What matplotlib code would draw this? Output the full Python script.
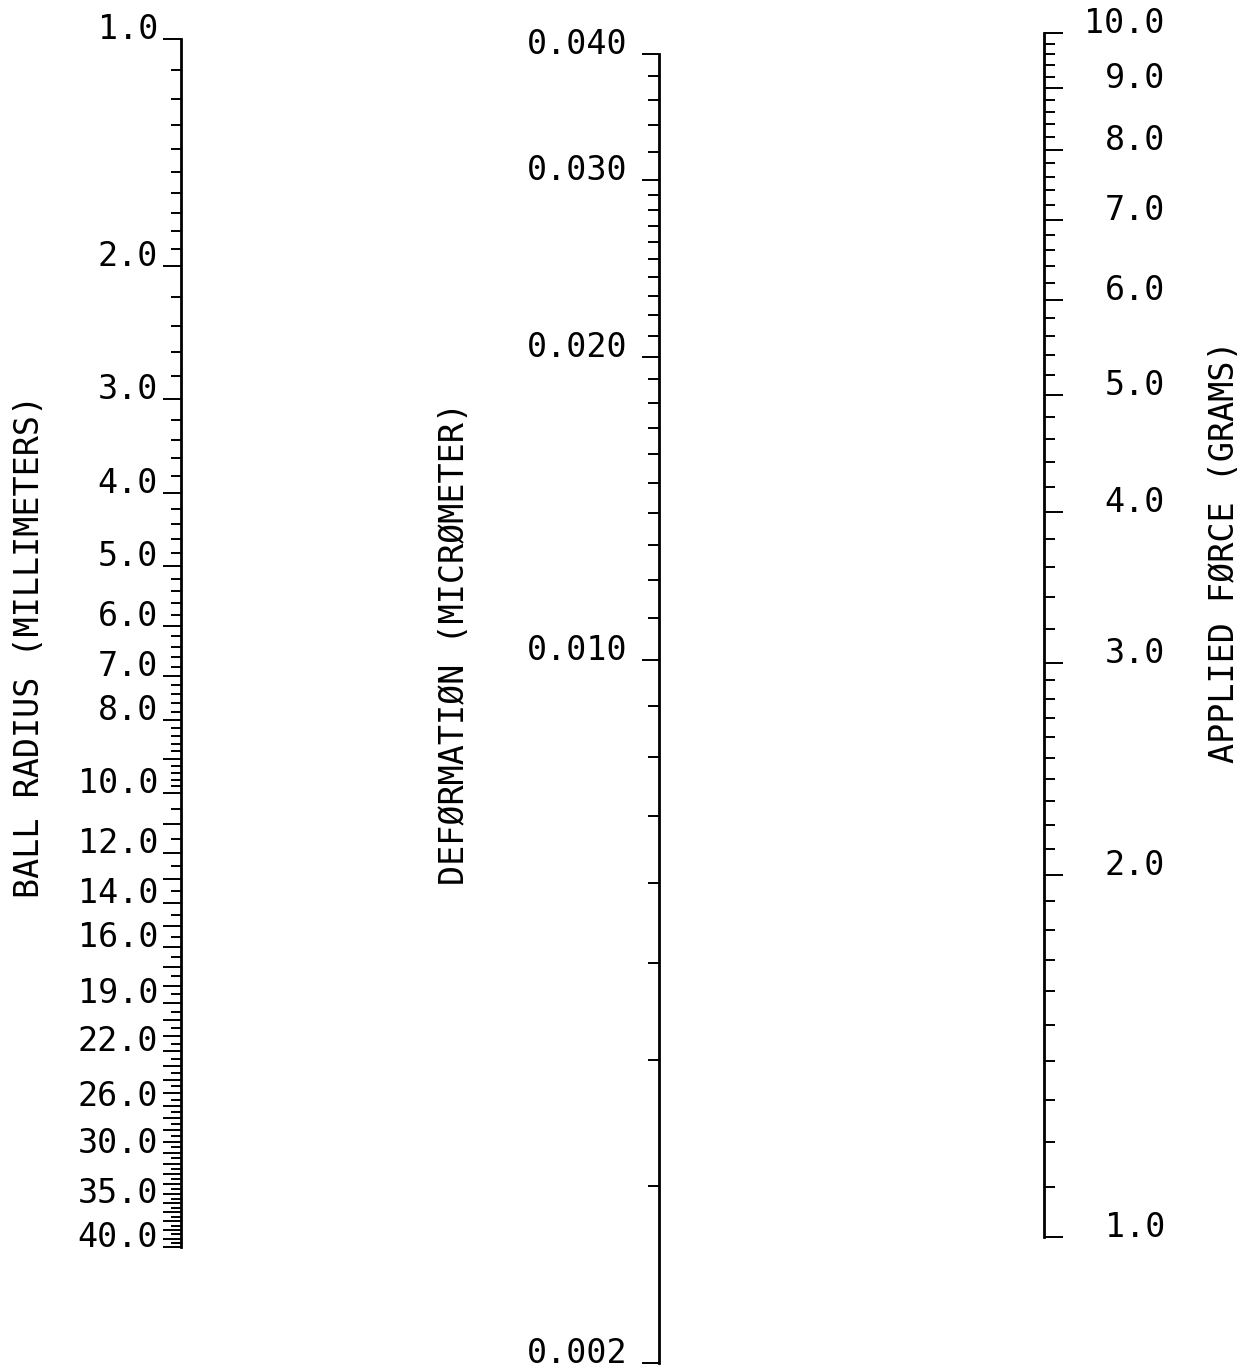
import numpy as np
import matplotlib
matplotlib.use("Agg")
import matplotlib.pyplot as plt
from matplotlib.ticker import FixedLocator, FixedFormatter

# Nomogram: ball radius / deformation / applied force (all log scales)

# ball radius scale (millimeters), 1.0 at top, 40.0 at bottom
radius_range = [1.0, 40.0]
radius_labeled = [1.0, 2.0, 3.0, 4.0, 5.0, 6.0, 7.0, 8.0, 10.0, 12.0, 14.0,
                  16.0, 19.0, 22.0, 26.0, 30.0, 35.0, 40.0]
radius_major = list(range(1, 41))
# (start, stop, step) of the minor graduations
radius_minor_steps = [(1.0, 2.0, 0.1), (2.0, 10.0, 0.2), (10.0, 40.0, 0.5)]

# deformation scale (micrometer), 0.040 at top, 0.002 at bottom
deform_range = [0.002, 0.040]
deform_labeled = [0.040, 0.030, 0.020, 0.010, 0.002]
deform_minor_steps = [(0.030, 0.040, 0.002), (0.002, 0.030, 0.001)]

# applied force scale (grams), 10.0 at top, 1.0 at bottom
force_range = [1.0, 10.0]
force_labeled = [1.0, 2.0, 3.0, 4.0, 5.0, 6.0, 7.0, 8.0, 9.0, 10.0]
force_minor_steps = [(1.0, 3.0, 0.1), (3.0, 10.0, 0.2)]

titles = ["BALL RADIUS (MILLIMETERS)", "DEFØRMATIØN (MICRØMETER)",
          "APPLIED FØRCE (GRAMS)"]

W, H = 1245, 1369
FONT = "DejaVu Sans Mono"
FS = 24


def minor_ticks(steps):
    vals = []
    for a, b, s in steps:
        vals.extend(np.arange(a, b + s / 2, s))
    return sorted(set(np.round(vals, 4)))


def make_axis(fig, x_line, y_top, y_bot, side):
    # axes whose one spine sits at x_line (pixels), spanning y_top..y_bot
    w = 10
    if side == "left":
        rect = [x_line / W, (H - y_bot) / H, w / W, (y_bot - y_top) / H]
    else:
        rect = [(x_line - w) / W, (H - y_bot) / H, w / W, (y_bot - y_top) / H]
    ax = fig.add_axes(rect)
    ax.set_facecolor("none")
    for s in ["top", "bottom", "left", "right"]:
        ax.spines[s].set_visible(s == side)
    ax.spines[side].set_linewidth(2.0)
    ax.set_xticks([])
    ax.set_yscale("log")
    if side == "right":
        ax.yaxis.tick_right()
    return ax


def setup_ticks(ax, major, labeled, fmt, minor, maj_len, min_len, pad, ha):
    ax.yaxis.set_major_locator(FixedLocator(major))
    labels = [fmt % v if any(abs(v - l) < 1e-9 for l in labeled) else ""
              for v in major]
    ax.yaxis.set_major_formatter(FixedFormatter(labels))
    ax.yaxis.set_minor_locator(FixedLocator(minor))
    ax.yaxis.set_minor_formatter(FixedFormatter([]))
    ax.tick_params(axis="y", which="major", length=maj_len * 0.72,
                   width=1.4, pad=pad * 0.72, direction="out",
                   labelsize=FS, color="black")
    ax.tick_params(axis="y", which="minor", length=min_len * 0.72,
                   width=1.4, direction="out", color="black")
    for t in ax.get_yticklabels():
        t.set_fontfamily(FONT)
        t.set_verticalalignment("baseline")
        t.set_horizontalalignment(ha)


fig = plt.figure(figsize=(W / 100, H / 100), dpi=100)
fig.patch.set_facecolor("white")

# left scale: ball radius
ax1 = make_axis(fig, 181, 39, 1247, "left")
ax1.set_ylim(radius_range[1], radius_range[0])
setup_ticks(ax1, radius_major, radius_labeled, "%.1f",
            minor_ticks(radius_minor_steps), 18, 10, 5, "right")

# middle scale: deformation
ax2 = make_axis(fig, 659, 54, 1363, "left")
ax2.set_ylim(deform_range[0], deform_range[1])
setup_ticks(ax2, deform_labeled, deform_labeled, "%.3f",
            minor_ticks(deform_minor_steps), 17, 11, 15, "right")

# right scale: applied force
ax3 = make_axis(fig, 1044, 33, 1237, "right")
ax3.set_ylim(force_range[0], force_range[1])
setup_ticks(ax3, force_labeled, force_labeled, "%.1f",
            minor_ticks(force_minor_steps), 19, 11, 102, "right")

# scale titles
for (x, y), t in zip([(30, 646), (455, 643), (1225, 552)], titles):
    fig.text(x / W, 1 - y / H, t, rotation=90, ha="center", va="center",
             fontsize=FS, family=FONT, color="black")

fig.savefig("out.png", dpi=100, facecolor="white")
